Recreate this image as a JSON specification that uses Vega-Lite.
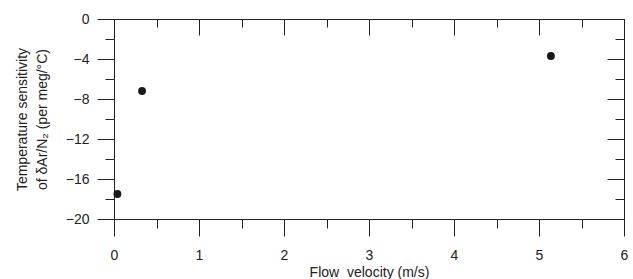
{
  "$schema": "https://vega.github.io/schema/vega-lite/v6.json",
  "width": 510,
  "height": 200,
  "autosize": {"type": "pad"},
  "padding": {"left": 15, "top": 12, "right": 10, "bottom": 0},
  "background": "white",
  "data": {"values": [
    {"v": 0.04, "s": -17.5},
    {"v": 0.33, "s": -7.2},
    {"v": 5.14, "s": -3.7}
  ]},
  "config": {
    "view": {"stroke": null},
    "axis": {
      "grid": false,
      "domainColor": "#222222",
      "tickColor": "#222222",
      "domainWidth": 1,
      "tickWidth": 1,
      "labelFont": "Liberation Sans",
      "titleFont": "Liberation Sans",
      "labelFontSize": 14,
      "titleFontSize": 14,
      "labelColor": "#222222",
      "titleColor": "#222222",
      "titleFontWeight": "normal",
      "labelFlush": false,
      "labelOverlap": false
    }
  },
  "layer": [
    {
      "mark": {"type": "point", "filled": true, "size": 62, "color": "#1a1a1a", "opacity": 1},
      "encoding": {
        "x": {"field": "v", "type": "quantitative", "scale": {"domain": [0, 6], "nice": false, "zero": false},
              "axis": {"orient": "bottom", "values": [0, 1, 2, 3, 4, 5, 6], "tickSize": 17, "labelPadding": 12,
                       "title": "Flow\u00a0 velocity (m/s)", "titlePadding": 3}},
        "y": {"field": "s", "type": "quantitative", "scale": {"domain": [-20, 0], "nice": false, "zero": false},
              "axis": {"orient": "left", "values": [-20, -16, -12, -8, -4, 0], "tickSize": 17, "labelPadding": 8,
                       "title": ["Temperature sensitivity", "of δAr/N₂ (per meg/°C)"], "titlePadding": 16, "titleLineHeight": 20}}
      }
    },
    {
      "mark": {"type": "point", "opacity": 0},
      "encoding": {
        "x": {"field": "v", "type": "quantitative",
              "axis": {"orient": "bottom", "values": [0.5, 1.5, 2.5, 3.5, 4.5, 5.5], "tickSize": 9, "labels": false, "domain": false, "title": null}},
        "y": {"field": "s", "type": "quantitative",
              "axis": {"orient": "left", "values": [-18, -14, -10, -6, -2], "tickSize": 9, "labels": false, "domain": false, "title": null}}
      }
    },
    {
      "mark": {"type": "point", "opacity": 0},
      "encoding": {
        "x": {"field": "v", "type": "quantitative",
              "axis": {"orient": "top", "values": [0, 1, 2, 3, 4, 5, 6], "tickSize": -16, "domain": true, "labels": false, "title": null}},
        "y": {"field": "s", "type": "quantitative",
              "axis": {"orient": "right", "values": [-20, -16, -12, -8, -4, 0], "tickSize": -17, "domain": true, "labels": false, "title": null}}
      }
    },
    {
      "mark": {"type": "point", "opacity": 0},
      "encoding": {
        "x": {"field": "v", "type": "quantitative",
              "axis": {"orient": "top", "values": [0.5, 1.5, 2.5, 3.5, 4.5, 5.5], "tickSize": -8, "labels": false, "domain": false, "title": null}},
        "y": {"field": "s", "type": "quantitative",
              "axis": {"orient": "right", "values": [-18, -14, -10, -6, -2], "tickSize": -9, "labels": false, "domain": false, "title": null}}
      }
    }
  ],
  "resolve": {"axis": {"x": "independent", "y": "independent"}}
}
